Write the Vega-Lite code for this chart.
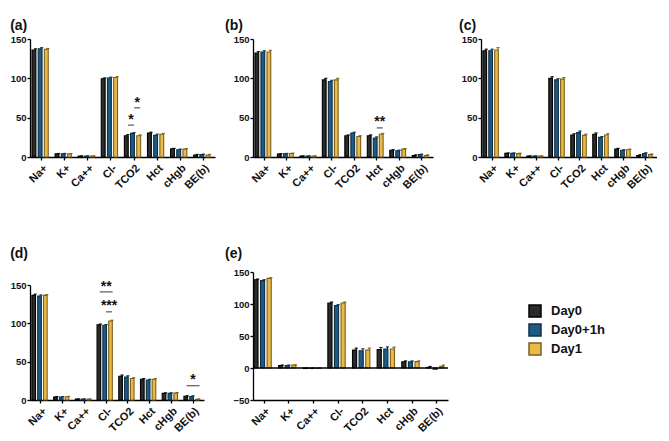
{
  "$schema": "https://vega.github.io/schema/vega-lite/v6.json",
  "padding": {"left": 10, "top": 19, "right": 0, "bottom": 0},
  "background": "white",
  "datasets": {
    "bars": [
      {"panel":"a","param":"Na+","group":"Day0","value":136,"hi":137.5},
      {"panel":"a","param":"Na+","group":"Day0+1h","value":137.5,"hi":139},
      {"panel":"a","param":"Na+","group":"Day1","value":137,"hi":138},
      {"panel":"a","param":"K+","group":"Day0","value":4.0,"hi":4.5},
      {"panel":"a","param":"K+","group":"Day0+1h","value":4.1,"hi":4.6},
      {"panel":"a","param":"K+","group":"Day1","value":4.0,"hi":4.5},
      {"panel":"a","param":"Ca++","group":"Day0","value":1.2,"hi":1.3},
      {"panel":"a","param":"Ca++","group":"Day0+1h","value":1.2,"hi":1.3},
      {"panel":"a","param":"Ca++","group":"Day1","value":1.2,"hi":1.3},
      {"panel":"a","param":"Cl-","group":"Day0","value":99.5,"hi":100.5},
      {"panel":"a","param":"Cl-","group":"Day0+1h","value":100.5,"hi":101.5},
      {"panel":"a","param":"Cl-","group":"Day1","value":101,"hi":102},
      {"panel":"a","param":"TCO2","group":"Day0","value":27,"hi":28.5},
      {"panel":"a","param":"TCO2","group":"Day0+1h","value":30,"hi":31},
      {"panel":"a","param":"TCO2","group":"Day1","value":27,"hi":28},
      {"panel":"a","param":"Hct","group":"Day0","value":30.5,"hi":31.5},
      {"panel":"a","param":"Hct","group":"Day0+1h","value":27.5,"hi":29},
      {"panel":"a","param":"Hct","group":"Day1","value":29,"hi":30},
      {"panel":"a","param":"cHgb","group":"Day0","value":10.5,"hi":11},
      {"panel":"a","param":"cHgb","group":"Day0+1h","value":9.3,"hi":10},
      {"panel":"a","param":"cHgb","group":"Day1","value":10,"hi":10.7},
      {"panel":"a","param":"BE(b)","group":"Day0","value":2.5,"hi":3.3},
      {"panel":"a","param":"BE(b)","group":"Day0+1h","value":3,"hi":3.6},
      {"panel":"a","param":"BE(b)","group":"Day1","value":2.5,"hi":3.3},

      {"panel":"b","param":"Na+","group":"Day0","value":132,"hi":134},
      {"panel":"b","param":"Na+","group":"Day0+1h","value":133.5,"hi":135},
      {"panel":"b","param":"Na+","group":"Day1","value":133.5,"hi":135.5},
      {"panel":"b","param":"K+","group":"Day0","value":3.8,"hi":4.3},
      {"panel":"b","param":"K+","group":"Day0+1h","value":4.1,"hi":4.6},
      {"panel":"b","param":"K+","group":"Day1","value":4.4,"hi":4.9},
      {"panel":"b","param":"Ca++","group":"Day0","value":1.2,"hi":1.3},
      {"panel":"b","param":"Ca++","group":"Day0+1h","value":1.2,"hi":1.3},
      {"panel":"b","param":"Ca++","group":"Day1","value":1.2,"hi":1.3},
      {"panel":"b","param":"Cl-","group":"Day0","value":98,"hi":100},
      {"panel":"b","param":"Cl-","group":"Day0+1h","value":96,"hi":97.5},
      {"panel":"b","param":"Cl-","group":"Day1","value":98,"hi":100},
      {"panel":"b","param":"TCO2","group":"Day0","value":27,"hi":28},
      {"panel":"b","param":"TCO2","group":"Day0+1h","value":30.5,"hi":31.5},
      {"panel":"b","param":"TCO2","group":"Day1","value":26,"hi":27},
      {"panel":"b","param":"Hct","group":"Day0","value":27,"hi":28},
      {"panel":"b","param":"Hct","group":"Day0+1h","value":24,"hi":25.5},
      {"panel":"b","param":"Hct","group":"Day1","value":29,"hi":30},
      {"panel":"b","param":"cHgb","group":"Day0","value":8.5,"hi":9.2},
      {"panel":"b","param":"cHgb","group":"Day0+1h","value":8,"hi":8.7},
      {"panel":"b","param":"cHgb","group":"Day1","value":10,"hi":10.6},
      {"panel":"b","param":"BE(b)","group":"Day0","value":2,"hi":2.7},
      {"panel":"b","param":"BE(b)","group":"Day0+1h","value":3,"hi":3.6},
      {"panel":"b","param":"BE(b)","group":"Day1","value":2,"hi":2.7},

      {"panel":"c","param":"Na+","group":"Day0","value":135,"hi":137},
      {"panel":"c","param":"Na+","group":"Day0+1h","value":135,"hi":137},
      {"panel":"c","param":"Na+","group":"Day1","value":136,"hi":139},
      {"panel":"c","param":"K+","group":"Day0","value":4.6,"hi":5.1},
      {"panel":"c","param":"K+","group":"Day0+1h","value":4.6,"hi":5.1},
      {"panel":"c","param":"K+","group":"Day1","value":4.3,"hi":4.8},
      {"panel":"c","param":"Ca++","group":"Day0","value":1.2,"hi":1.3},
      {"panel":"c","param":"Ca++","group":"Day0+1h","value":1.2,"hi":1.3},
      {"panel":"c","param":"Ca++","group":"Day1","value":1.2,"hi":1.3},
      {"panel":"c","param":"Cl-","group":"Day0","value":100,"hi":102},
      {"panel":"c","param":"Cl-","group":"Day0+1h","value":98,"hi":99.5},
      {"panel":"c","param":"Cl-","group":"Day1","value":99,"hi":101},
      {"panel":"c","param":"TCO2","group":"Day0","value":28,"hi":29.5},
      {"panel":"c","param":"TCO2","group":"Day0+1h","value":31,"hi":33},
      {"panel":"c","param":"TCO2","group":"Day1","value":27.5,"hi":29},
      {"panel":"c","param":"Hct","group":"Day0","value":29,"hi":30.5},
      {"panel":"c","param":"Hct","group":"Day0+1h","value":25,"hi":26},
      {"panel":"c","param":"Hct","group":"Day1","value":28,"hi":29.5},
      {"panel":"c","param":"cHgb","group":"Day0","value":10,"hi":11},
      {"panel":"c","param":"cHgb","group":"Day0+1h","value":8.5,"hi":9.2},
      {"panel":"c","param":"cHgb","group":"Day1","value":9.3,"hi":10},
      {"panel":"c","param":"BE(b)","group":"Day0","value":1.7,"hi":2.8},
      {"panel":"c","param":"BE(b)","group":"Day0+1h","value":4.3,"hi":5.3},
      {"panel":"c","param":"BE(b)","group":"Day1","value":3,"hi":3.8},

      {"panel":"d","param":"Na+","group":"Day0","value":136.5,"hi":138},
      {"panel":"d","param":"Na+","group":"Day0+1h","value":135.5,"hi":137},
      {"panel":"d","param":"Na+","group":"Day1","value":136.5,"hi":137.5},
      {"panel":"d","param":"K+","group":"Day0","value":4,"hi":4.5},
      {"panel":"d","param":"K+","group":"Day0+1h","value":4,"hi":4.5},
      {"panel":"d","param":"K+","group":"Day1","value":4.2,"hi":4.7},
      {"panel":"d","param":"Ca++","group":"Day0","value":1.2,"hi":1.3},
      {"panel":"d","param":"Ca++","group":"Day0+1h","value":1.2,"hi":1.3},
      {"panel":"d","param":"Ca++","group":"Day1","value":1.2,"hi":1.3},
      {"panel":"d","param":"Cl-","group":"Day0","value":98,"hi":99},
      {"panel":"d","param":"Cl-","group":"Day0+1h","value":97.5,"hi":98.5},
      {"panel":"d","param":"Cl-","group":"Day1","value":103,"hi":104},
      {"panel":"d","param":"TCO2","group":"Day0","value":31,"hi":32.5},
      {"panel":"d","param":"TCO2","group":"Day0+1h","value":30,"hi":31.5},
      {"panel":"d","param":"TCO2","group":"Day1","value":28,"hi":29},
      {"panel":"d","param":"Hct","group":"Day0","value":27,"hi":28},
      {"panel":"d","param":"Hct","group":"Day0+1h","value":26,"hi":27},
      {"panel":"d","param":"Hct","group":"Day1","value":27,"hi":28},
      {"panel":"d","param":"cHgb","group":"Day0","value":8.7,"hi":9.3},
      {"panel":"d","param":"cHgb","group":"Day0+1h","value":8.7,"hi":9.3},
      {"panel":"d","param":"cHgb","group":"Day1","value":9,"hi":9.6},
      {"panel":"d","param":"BE(b)","group":"Day0","value":4.8,"hi":5.5},
      {"panel":"d","param":"BE(b)","group":"Day0+1h","value":4.6,"hi":5.4},
      {"panel":"d","param":"BE(b)","group":"Day1","value":0.9,"hi":1.3},

      {"panel":"e","param":"Na+","group":"Day0","value":138,"hi":139},
      {"panel":"e","param":"Na+","group":"Day0+1h","value":136.5,"hi":138},
      {"panel":"e","param":"Na+","group":"Day1","value":140,"hi":141},
      {"panel":"e","param":"K+","group":"Day0","value":4,"hi":4.6},
      {"panel":"e","param":"K+","group":"Day0+1h","value":4,"hi":4.6},
      {"panel":"e","param":"K+","group":"Day1","value":4.5,"hi":5.1},
      {"panel":"e","param":"Ca++","group":"Day0","value":-0.8,"hi":-0.3},
      {"panel":"e","param":"Ca++","group":"Day0+1h","value":-0.8,"hi":-0.3},
      {"panel":"e","param":"Ca++","group":"Day1","value":-0.8,"hi":-0.3},
      {"panel":"e","param":"Cl-","group":"Day0","value":101.5,"hi":103},
      {"panel":"e","param":"Cl-","group":"Day0+1h","value":97.5,"hi":99},
      {"panel":"e","param":"Cl-","group":"Day1","value":101.5,"hi":103},
      {"panel":"e","param":"TCO2","group":"Day0","value":28,"hi":31},
      {"panel":"e","param":"TCO2","group":"Day0+1h","value":27,"hi":30},
      {"panel":"e","param":"TCO2","group":"Day1","value":28,"hi":31},
      {"panel":"e","param":"Hct","group":"Day0","value":29,"hi":32},
      {"panel":"e","param":"Hct","group":"Day0+1h","value":29.5,"hi":33},
      {"panel":"e","param":"Hct","group":"Day1","value":29.7,"hi":32.5},
      {"panel":"e","param":"cHgb","group":"Day0","value":9.5,"hi":11},
      {"panel":"e","param":"cHgb","group":"Day0+1h","value":9.5,"hi":11},
      {"panel":"e","param":"cHgb","group":"Day1","value":10,"hi":11},
      {"panel":"e","param":"BE(b)","group":"Day0","value":1,"hi":2.5},
      {"panel":"e","param":"BE(b)","group":"Day0+1h","value":-2,"hi":-0.5},
      {"panel":"e","param":"BE(b)","group":"Day1","value":2.6,"hi":4.5}
    ],
    "ann": [
      {"panel":"a","param":"TCO2","at":"Day0|Day0+1h","line":40.5,"star":51,"label":"*"},
      {"panel":"a","param":"TCO2","at":"Day0+1h|Day1","line":62.5,"star":73,"label":"*"},
      {"panel":"b","param":"Hct","at":"Day0+1h|Day1","line":37,"star":48,"label":"**"},
      {"panel":"d","param":"Cl-","at":"Day0+1h","line":141,"star":151,"label":"**"},
      {"panel":"d","param":"Cl-","at":"Day0+1h|Day1","line":115,"star":126,"label":"***"},
      {"panel":"d","param":"BE(b)","at":"Day0+1h","line":18.6,"star":30,"label":"*"}
    ]
  },
  "spacing": 10,
  "resolve": {"scale": {"x": "independent", "y": "independent", "xOffset": "independent"}, "axis": {"x": "independent", "y": "independent"}},
  "hconcat": [
    {
      "spacing": 56,
      "resolve": {"scale": {"x": "independent", "y": "independent", "xOffset": "independent"}, "axis": {"x": "independent", "y": "independent"}},
      "vconcat": [
        {
          "width": 185, "height": 118,
          "title": {"text": "(a)", "offset": 1},
          "layer": [
            {"data": {"name": "bars"}, "transform": [{"filter": "datum.panel == 'a'"}],
             "mark": {"type": "bar", "width": {"band": 1.25}, "strokeWidth": 1.1},
             "encoding": {
               "x": {"field": "param", "type": "nominal", "scale": {"domain": ["Na+","K+","Ca++","Cl-","TCO2","Hct","cHgb","BE(b)"], "paddingInner": 0.33, "paddingOuter": 0.17}},
               "xOffset": {"field": "group", "scale": {"domain": ["Day0","Day0|Day0+1h","Day0+1h","Day0+1h|Day1","Day1"], "paddingInner": 0, "paddingOuter": 0}},
               "y": {"field": "value", "type": "quantitative", "scale": {"domain": [0, 150], "nice": false}, "axis": {"values": [0, 50, 100, 150], "tickCount": 10, "minExtent": 19}},
               "fill": {"field": "group", "type": "nominal", "title": null, "scale": {"domain": ["Day0","Day0+1h","Day1"], "range": ["#2b2b2b","#1d5a84","#e8bb48"]}},
               "stroke": {"field": "group", "type": "nominal", "title": null, "scale": {"domain": ["Day0","Day0+1h","Day1"], "range": ["#000000","#0f2f45","#7d5f1c"]}}
             }},
            {"data": {"name": "bars"}, "transform": [{"filter": "datum.panel == 'a'"}],
             "mark": {"type": "rule", "strokeWidth": 1},
             "encoding": {
               "x": {"field": "param", "type": "nominal"},
               "xOffset": {"field": "group"},
               "y": {"field": "value", "type": "quantitative"},
               "y2": {"field": "hi"},
               "stroke": {"field": "group", "type": "nominal", "title": null}
             }},
            {"data": {"name": "bars"}, "transform": [{"filter": "datum.panel == 'a'"}],
             "mark": {"type": "tick", "filled": false, "size": 3, "thickness": 0.1, "strokeWidth": 1},
             "encoding": {
               "x": {"field": "param", "type": "nominal"},
               "xOffset": {"field": "group"},
               "y": {"field": "hi", "type": "quantitative"},
               "stroke": {"field": "group", "type": "nominal", "title": null}
             }},
            {"data": {"name": "ann"}, "transform": [{"filter": "datum.panel == 'a' && datum.at != 'Day0+1h'"}],
             "mark": {"type": "tick", "size": 6, "thickness": 1.2, "color": "#111"},
             "encoding": {"x": {"field": "param", "type": "nominal"}, "xOffset": {"field": "at"}, "y": {"field": "line", "type": "quantitative"}}},
            {"data": {"name": "ann"}, "transform": [{"filter": "datum.panel == 'a'"}],
             "mark": {"type": "text", "fontSize": 14, "fontWeight": "bold", "baseline": "middle", "dy": 3, "color": "#111", "font": "Liberation Sans"},
             "encoding": {"x": {"field": "param", "type": "nominal"}, "xOffset": {"field": "at"}, "y": {"field": "star", "type": "quantitative"}, "text": {"field": "label"}}}
          ]
        },
        {
          "width": 174, "height": 115,
          "title": {"text": "(d)", "offset": 19},
          "layer": [
            {"data": {"name": "bars"}, "transform": [{"filter": "datum.panel == 'd'"}],
             "mark": {"type": "bar", "width": {"band": 1.25}, "strokeWidth": 1.1},
             "encoding": {
               "x": {"field": "param", "type": "nominal", "scale": {"domain": ["Na+","K+","Ca++","Cl-","TCO2","Hct","cHgb","BE(b)"], "paddingInner": 0.33, "paddingOuter": 0.17}},
               "xOffset": {"field": "group", "scale": {"domain": ["Day0","Day0|Day0+1h","Day0+1h","Day0+1h|Day1","Day1"], "paddingInner": 0, "paddingOuter": 0}},
               "y": {"field": "value", "type": "quantitative", "scale": {"domain": [0, 150], "nice": false}, "axis": {"values": [0, 50, 100, 150], "tickCount": 10, "minExtent": 19}},
               "fill": {"field": "group", "type": "nominal", "title": null, "scale": {"domain": ["Day0","Day0+1h","Day1"], "range": ["#2b2b2b","#1d5a84","#e8bb48"]}},
               "stroke": {"field": "group", "type": "nominal", "title": null, "scale": {"domain": ["Day0","Day0+1h","Day1"], "range": ["#000000","#0f2f45","#7d5f1c"]}}
             }},
            {"data": {"name": "bars"}, "transform": [{"filter": "datum.panel == 'd'"}],
             "mark": {"type": "rule", "strokeWidth": 1},
             "encoding": {
               "x": {"field": "param", "type": "nominal"},
               "xOffset": {"field": "group"},
               "y": {"field": "value", "type": "quantitative"},
               "y2": {"field": "hi"},
               "stroke": {"field": "group", "type": "nominal", "title": null}
             }},
            {"data": {"name": "bars"}, "transform": [{"filter": "datum.panel == 'd'"}],
             "mark": {"type": "tick", "filled": false, "size": 3, "thickness": 0.1, "strokeWidth": 1},
             "encoding": {
               "x": {"field": "param", "type": "nominal"},
               "xOffset": {"field": "group"},
               "y": {"field": "hi", "type": "quantitative"},
               "stroke": {"field": "group", "type": "nominal", "title": null}
             }},
            {"data": {"name": "ann"}, "transform": [{"filter": "datum.panel == 'd' && datum.at != 'Day0+1h'"}],
             "mark": {"type": "tick", "size": 6, "thickness": 1.2, "color": "#111"},
             "encoding": {"x": {"field": "param", "type": "nominal"}, "xOffset": {"field": "at"}, "y": {"field": "line", "type": "quantitative"}}},
            {"data": {"name": "ann"}, "transform": [{"filter": "datum.panel == 'd' && datum.at == 'Day0+1h'"}],
             "mark": {"type": "tick", "size": 13, "thickness": 1.2, "color": "#111"},
             "encoding": {"x": {"field": "param", "type": "nominal"}, "xOffset": {"field": "at"}, "y": {"field": "line", "type": "quantitative"}}},
            {"data": {"name": "ann"}, "transform": [{"filter": "datum.panel == 'd'"}],
             "mark": {"type": "text", "fontSize": 14, "fontWeight": "bold", "baseline": "middle", "dy": 3, "color": "#111", "font": "Liberation Sans"},
             "encoding": {"x": {"field": "param", "type": "nominal"}, "xOffset": {"field": "at"}, "y": {"field": "star", "type": "quantitative"}, "text": {"field": "label"}}}
          ]
        }
      ]
    },
    {
      "spacing": 56,
      "resolve": {"scale": {"x": "independent", "y": "independent", "xOffset": "independent"}, "axis": {"x": "independent", "y": "independent"}},
      "vconcat": [
        {
          "width": 180, "height": 118,
          "title": {"text": "(b)", "offset": 1},
          "layer": [
            {"data": {"name": "bars"}, "transform": [{"filter": "datum.panel == 'b'"}],
             "mark": {"type": "bar", "width": {"band": 1.25}, "strokeWidth": 1.1},
             "encoding": {
               "x": {"field": "param", "type": "nominal", "scale": {"domain": ["Na+","K+","Ca++","Cl-","TCO2","Hct","cHgb","BE(b)"], "paddingInner": 0.33, "paddingOuter": 0.17}},
               "xOffset": {"field": "group", "scale": {"domain": ["Day0","Day0|Day0+1h","Day0+1h","Day0+1h|Day1","Day1"], "paddingInner": 0, "paddingOuter": 0}},
               "y": {"field": "value", "type": "quantitative", "scale": {"domain": [0, 150], "nice": false}, "axis": {"values": [0, 50, 100, 150], "tickCount": 10, "minExtent": 28}},
               "fill": {"field": "group", "type": "nominal", "title": null, "scale": {"domain": ["Day0","Day0+1h","Day1"], "range": ["#2b2b2b","#1d5a84","#e8bb48"]}},
               "stroke": {"field": "group", "type": "nominal", "title": null, "scale": {"domain": ["Day0","Day0+1h","Day1"], "range": ["#000000","#0f2f45","#7d5f1c"]}}
             }},
            {"data": {"name": "bars"}, "transform": [{"filter": "datum.panel == 'b'"}],
             "mark": {"type": "rule", "strokeWidth": 1},
             "encoding": {
               "x": {"field": "param", "type": "nominal"},
               "xOffset": {"field": "group"},
               "y": {"field": "value", "type": "quantitative"},
               "y2": {"field": "hi"},
               "stroke": {"field": "group", "type": "nominal", "title": null}
             }},
            {"data": {"name": "bars"}, "transform": [{"filter": "datum.panel == 'b'"}],
             "mark": {"type": "tick", "filled": false, "size": 3, "thickness": 0.1, "strokeWidth": 1},
             "encoding": {
               "x": {"field": "param", "type": "nominal"},
               "xOffset": {"field": "group"},
               "y": {"field": "hi", "type": "quantitative"},
               "stroke": {"field": "group", "type": "nominal", "title": null}
             }},
            {"data": {"name": "ann"}, "transform": [{"filter": "datum.panel == 'b'"}],
             "mark": {"type": "tick", "size": 6, "thickness": 1.2, "color": "#111"},
             "encoding": {"x": {"field": "param", "type": "nominal"}, "xOffset": {"field": "at"}, "y": {"field": "line", "type": "quantitative"}}},
            {"data": {"name": "ann"}, "transform": [{"filter": "datum.panel == 'b'"}],
             "mark": {"type": "text", "fontSize": 14, "fontWeight": "bold", "baseline": "middle", "dy": 3, "color": "#111", "font": "Liberation Sans"},
             "encoding": {"x": {"field": "param", "type": "nominal"}, "xOffset": {"field": "at"}, "y": {"field": "star", "type": "quantitative"}, "text": {"field": "label"}}}
          ]
        },
        {
          "width": 195, "height": 128,
          "title": {"text": "(e)", "offset": 6},
          "layer": [
            {"data": {"name": "bars"}, "transform": [{"filter": "datum.panel == 'e'"}],
             "mark": {"type": "bar", "width": {"band": 1.25}, "strokeWidth": 1.1},
             "encoding": {
               "x": {"field": "param", "type": "nominal", "scale": {"domain": ["Na+","K+","Ca++","Cl-","TCO2","Hct","cHgb","BE(b)"], "paddingInner": 0.33, "paddingOuter": 0.12}},
               "xOffset": {"field": "group", "scale": {"domain": ["Day0","Day0|Day0+1h","Day0+1h","Day0+1h|Day1","Day1"], "paddingInner": 0, "paddingOuter": 0}},
               "y": {"field": "value", "type": "quantitative", "scale": {"domain": [-50, 150], "nice": false}, "axis": {"values": [-50, 0, 50, 100, 150], "tickCount": 5, "minExtent": 28}},
               "fill": {"field": "group", "type": "nominal", "title": null, "scale": {"domain": ["Day0","Day0+1h","Day1"], "range": ["#2b2b2b","#1d5a84","#e8bb48"]}},
               "stroke": {"field": "group", "type": "nominal", "title": null, "scale": {"domain": ["Day0","Day0+1h","Day1"], "range": ["#000000","#0f2f45","#7d5f1c"]}}
             }},
            {"data": {"name": "bars"}, "transform": [{"filter": "datum.panel == 'e'"}],
             "mark": {"type": "rule", "strokeWidth": 1},
             "encoding": {
               "x": {"field": "param", "type": "nominal"},
               "xOffset": {"field": "group"},
               "y": {"field": "value", "type": "quantitative"},
               "y2": {"field": "hi"},
               "stroke": {"field": "group", "type": "nominal", "title": null}
             }},
            {"data": {"name": "bars"}, "transform": [{"filter": "datum.panel == 'e'"}],
             "mark": {"type": "tick", "filled": false, "size": 3, "thickness": 0.1, "strokeWidth": 1},
             "encoding": {
               "x": {"field": "param", "type": "nominal"},
               "xOffset": {"field": "group"},
               "y": {"field": "hi", "type": "quantitative"},
               "stroke": {"field": "group", "type": "nominal", "title": null}
             }},
            {"data": {"values": [{"zero": 0}]},
             "mark": {"type": "rule", "color": "#000", "strokeWidth": 1.3},
             "encoding": {"y": {"field": "zero", "type": "quantitative"}}}
          ]
        }
      ]
    },
    {
      "resolve": {"scale": {"x": "independent", "y": "independent", "xOffset": "independent"}, "axis": {"x": "independent", "y": "independent"}},
      "vconcat": [
        {
          "width": 176, "height": 118,
          "title": {"text": "(c)", "offset": 1},
          "layer": [
            {"data": {"name": "bars"}, "transform": [{"filter": "datum.panel == 'c'"}],
             "mark": {"type": "bar", "width": {"band": 1.25}, "strokeWidth": 1.1},
             "encoding": {
               "x": {"field": "param", "type": "nominal", "scale": {"domain": ["Na+","K+","Ca++","Cl-","TCO2","Hct","cHgb","BE(b)"], "paddingInner": 0.33, "paddingOuter": 0.17}},
               "xOffset": {"field": "group", "scale": {"domain": ["Day0","Day0|Day0+1h","Day0+1h","Day0+1h|Day1","Day1"], "paddingInner": 0, "paddingOuter": 0}},
               "y": {"field": "value", "type": "quantitative", "scale": {"domain": [0, 150], "nice": false}, "axis": {"values": [0, 50, 100, 150], "tickCount": 10, "minExtent": 22}},
               "fill": {"field": "group", "type": "nominal", "title": null, "scale": {"domain": ["Day0","Day0+1h","Day1"], "range": ["#2b2b2b","#1d5a84","#e8bb48"]}},
               "stroke": {"field": "group", "type": "nominal", "title": null, "scale": {"domain": ["Day0","Day0+1h","Day1"], "range": ["#000000","#0f2f45","#7d5f1c"]}}
             }},
            {"data": {"name": "bars"}, "transform": [{"filter": "datum.panel == 'c'"}],
             "mark": {"type": "rule", "strokeWidth": 1},
             "encoding": {
               "x": {"field": "param", "type": "nominal"},
               "xOffset": {"field": "group"},
               "y": {"field": "value", "type": "quantitative"},
               "y2": {"field": "hi"},
               "stroke": {"field": "group", "type": "nominal", "title": null}
             }},
            {"data": {"name": "bars"}, "transform": [{"filter": "datum.panel == 'c'"}],
             "mark": {"type": "tick", "filled": false, "size": 3, "thickness": 0.1, "strokeWidth": 1},
             "encoding": {
               "x": {"field": "param", "type": "nominal"},
               "xOffset": {"field": "group"},
               "y": {"field": "hi", "type": "quantitative"},
               "stroke": {"field": "group", "type": "nominal", "title": null}
             }}
          ]
        }
      ]
    }
  ],
  "config": {
    "view": {"stroke": null},
    "font": "Liberation Sans",
    "axis": {"domainColor": "#000", "domainWidth": 1.3, "tickColor": "#000", "tickWidth": 1.3, "tickSize": 3, "labelFont": "Liberation Sans", "labelFontWeight": "bold", "labelColor": "#111", "grid": false, "title": null, "labelPadding": 1, "labelOverlap": false},
    "axisX": {"labelAngle": -45, "labelFontSize": 11, "labelPadding": 2},
    "axisY": {"labelFontSize": 9.5, "labelFlush": false},
    "legend": {"orient": "none", "legendX": 498, "legendY": 265, "symbolType": "square", "symbolSize": 144, "symbolStrokeWidth": 1.5, "labelFontSize": 13, "labelFontWeight": "bold", "labelFont": "Liberation Sans", "labelColor": "#111", "rowPadding": 1, "labelOffset": 9},
    "title": {"anchor": "start", "frame": "bounds", "fontSize": 14, "fontWeight": "bold", "font": "Liberation Sans", "color": "#111"}
  }
}
